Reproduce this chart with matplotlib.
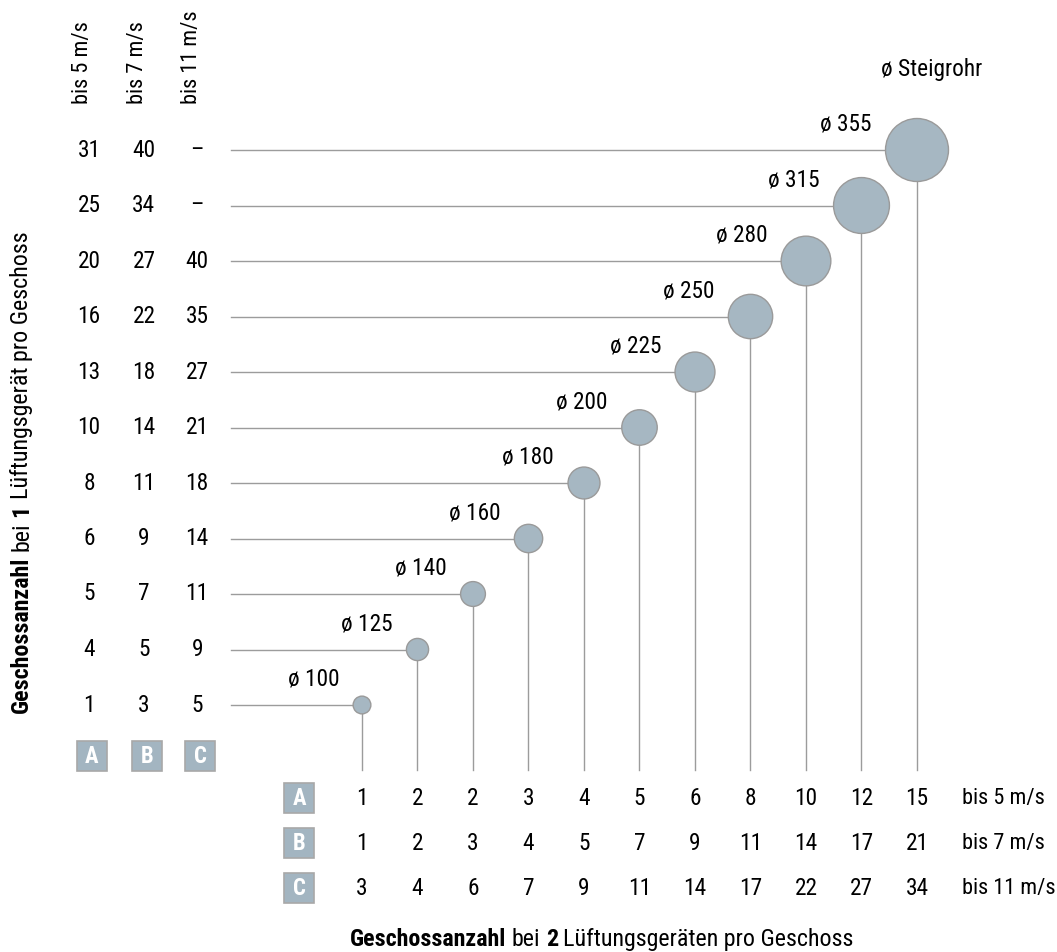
import matplotlib.pyplot as plt
from matplotlib.patches import Circle, Rectangle

plt.rcParams['font.family'] = ['Roboto Condensed', 'DejaVu Sans']

# ── data ─────────────────────────────────────────────────────────────────────
diameters = [100, 125, 140, 160, 180, 200, 225, 250, 280, 315, 355]
# Geschossanzahl bei 1 Lüftungsgerät pro Geschoss (A: 5 m/s, B: 7 m/s, C: 11 m/s)
one_a = [1, 4, 5, 6, 8, 10, 13, 16, 20, 25, 31]
one_b = [3, 5, 7, 9, 11, 14, 18, 22, 27, 34, 40]
one_c = [5, 9, 11, 14, 18, 21, 27, 35, 40, None, None]
# Geschossanzahl bei 2 Lüftungsgeräten pro Geschoss
two_a = [1, 2, 2, 3, 4, 5, 6, 8, 10, 12, 15]
two_b = [1, 2, 3, 4, 5, 7, 9, 11, 14, 17, 21]
two_c = [3, 4, 6, 7, 9, 11, 14, 17, 22, 27, 34]
speeds = ['bis 5 m/s', 'bis 7 m/s', 'bis 11 m/s']
letters = ['A', 'B', 'C']

# ── layout (index units, one step = 55.5 px) ─────────────────────────────────
W, H = 1057, 952
U = 55.5
X0, Y0 = 362, 705
FS = 16.8
FS_SPEED = 16.0
FS_TITLE = 17.3
LINE = '#9c9c9c'
FILL = '#a6b7c2'
EDGE = '#9a9a9a'

fig = plt.figure(figsize=(W / 100, H / 100), dpi=100)
ax = fig.add_axes([0, 0, 1, 1])
ax.set_xlim(-X0 / U, (W - X0) / U)
ax.set_ylim((Y0 - H) / U, Y0 / U)
ax.set_aspect('equal')
ax.axis('off')

left_cols = [-4.92, -3.93, -2.97]
line_start = -2.36
stem_end = -1.17
bottom_rows = [-1.68, -2.49, -3.30]
box = 0.54


def letter_box(x, y, s):
    ax.add_patch(Rectangle((x - box / 2, y - box / 2), box, box,
                           facecolor='#a3b5c1', edgecolor='#a8a8a8', lw=1.2))
    ax.text(x, y, s, color='white', fontweight='bold', fontsize=FS - 0.5,
            ha='center', va='center')


for i, d in enumerate(diameters):
    r = d * 0.0887 / U
    ax.plot([line_start, i], [i, i], color=LINE, lw=1, zorder=1)
    ax.plot([i, i], [i, stem_end], color=LINE, lw=1, zorder=1)
    ax.add_patch(Circle((i, i), r, facecolor=FILL, edgecolor=EDGE, lw=1, zorder=2))
    ax.text(i - r - 0.25, i + 0.46, f'ø {d}', fontsize=FS, ha='right', va='center')

# left table
for col, vals in zip(left_cols, [one_a, one_b, one_c]):
    for i, v in enumerate(vals):
        ax.text(col, i, '–' if v is None else str(v), fontsize=FS,
                ha='center', va='center')
for col, s in zip(left_cols, speeds):
    ax.text(col - 0.11, 10.82, s, fontsize=FS_SPEED, rotation=90,
            ha='center', va='bottom')
for col, s in zip(left_cols, letters):
    letter_box(col + 0.05, -0.92, s)

# bottom table
for y, vals, s, sp in zip(bottom_rows, [two_a, two_b, two_c], letters, speeds):
    letter_box(-1.135, y, s)
    for i, v in enumerate(vals):
        ax.text(i, y, str(v), fontsize=FS, ha='center', va='center')
    ax.text(10.81, y, sp, fontsize=FS_SPEED, ha='left', va='center')

ax.text(10.27, 11.45, 'ø Steigrohr', fontsize=FS, ha='center', va='center')

# ── mixed bold/regular axis titles ───────────────────────────────────────────
fig.canvas.draw()
rend = fig.canvas.get_renderer()


def measure(s, w, rot):
    t = ax.text(0, 0, s, fontsize=FS_TITLE, fontweight=w, rotation=rot)
    bb = t.get_window_extent(rend)
    t.remove()
    return bb.height if rot else bb.width


def rich(x, y, parts, rot=0):
    space = measure('x x', 'normal', rot) - measure('xx', 'normal', rot)
    sizes = [measure(s, w, rot) for s, w in parts]
    total = sum(sizes) + space * (len(parts) - 1)
    px, py = ax.transData.transform((x, y))
    pos = -total / 2
    inv = ax.transData.inverted()
    for (s, w), size in zip(parts, sizes):
        if rot:
            xy = inv.transform((px, py + pos))
            ax.text(xy[0], xy[1], s, fontsize=FS_TITLE, fontweight=w, rotation=90,
                    ha='center', va='bottom')
        else:
            xy = inv.transform((px + pos, py))
            ax.text(xy[0], xy[1], s, fontsize=FS_TITLE, fontweight=w,
                    ha='left', va='center')
        pos += size + space


rich(-6.13, 4.2, [('Geschossanzahl', 'bold'), ('bei', 'normal'), ('1', 'bold'),
                  ('Lüftungsgerät pro Geschoss', 'normal')], rot=90)
rich(4.32, -4.22, [('Geschossanzahl', 'bold'), ('bei', 'normal'), ('2', 'bold'),
                   ('Lüftungsgeräten pro Geschoss', 'normal')])

fig.savefig('out.png', dpi=100)
